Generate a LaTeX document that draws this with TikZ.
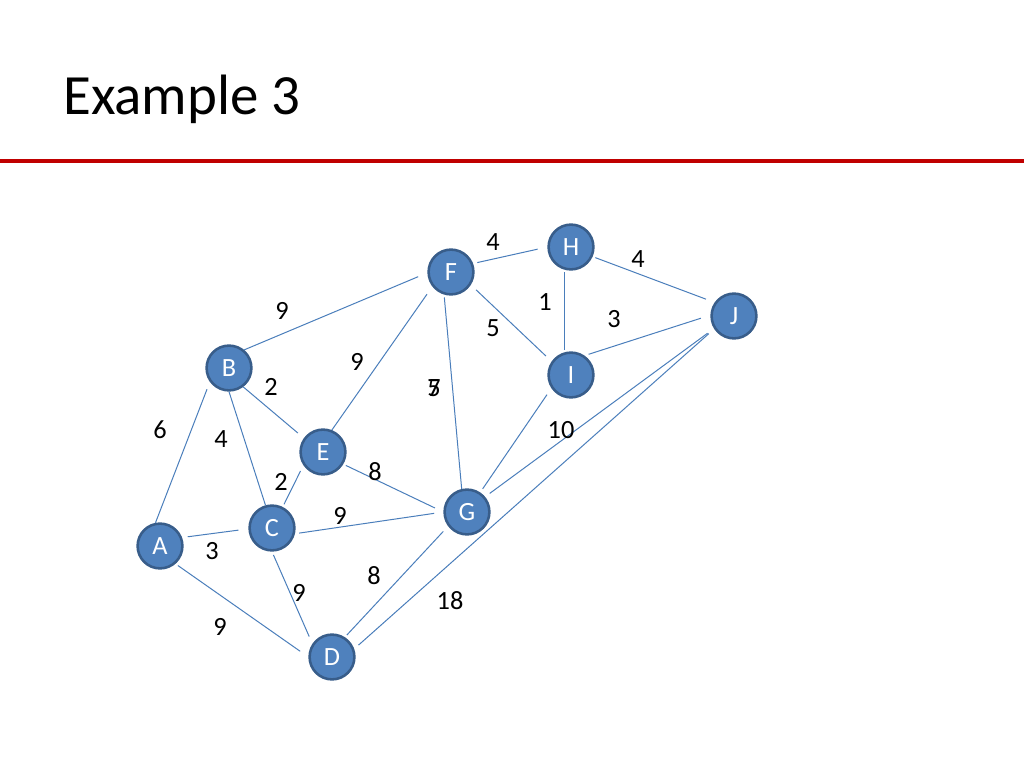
\documentclass[tikz,border=0pt]{standalone}
\usepackage{fontspec}
\setmainfont{Carlito}
\definecolor{nodefill}{HTML}{4F81BD}
\definecolor{nodeedge}{HTML}{385D8A}
\definecolor{edgecol}{HTML}{4A7EBB}
\definecolor{rulered}{HTML}{C00000}
\begin{document}
\begin{tikzpicture}[x=0.703125pt,y=-0.703125pt,
  vertex/.style={circle,fill=nodefill,draw=nodeedge,line width=1.8pt,minimum size=31.5pt,inner sep=0pt,text=white,font=\fontsize{18.5}{18.5}\selectfont},
  edge/.style={draw=edgecol,line width=0.7pt},
  wlabel/.style={font=\fontsize{18.5}{18.5}\selectfont,text=black,inner sep=0pt}]
\useasboundingbox (0,0) rectangle (1024,768);
\fill[white] (0,0) rectangle (1024,768);
\node[anchor=base west,font=\fontsize{40}{40}\selectfont,inner sep=0pt] (title) at (63,115) {Example 3};
\coordinate (rl) at (0,161);
\coordinate (rr) at (1024,161);
\draw[rulered,line width=2.2pt] (rl) -- (rr);

\node[vertex] (A) at (160,546) {A};
\node[vertex] (B) at (229,368) {B};
\node[vertex] (C) at (272,528) {C};
\node[vertex] (D) at (332,657) {D};
\node[vertex] (E) at (323,452) {E};
\node[vertex] (F) at (451,272) {F};
\node[vertex] (G) at (467,512) {G};
\node[vertex] (H) at (571,247) {H};
\node[vertex] (I) at (571,375) {I};
\node[vertex] (J) at (734,316) {J};

\draw[edge,shorten >=5.5pt] (A.101) -- (B.216);
\draw[edge,shorten <=4pt,shorten >=7pt] (A.21) -- (C.182);
\draw[edge,shorten <=2pt,shorten >=7pt] (A.-49) -- (D.180);
\draw[edge,shorten >=7pt] (B.50) -- (F.182);
\draw[edge,shorten >=5.5pt] (B.-53) -- (E.144);
\draw[edge] (B.-90) -- (C.106);
\draw[edge,shorten <=2pt,shorten >=4.5pt] (C.63) -- (E.214);
\draw[edge,shorten <=3pt,shorten >=6.5pt] (C.-14) -- (G.180);
\draw[edge,shorten <=2.5pt,shorten >=5.5pt] (C.-90) -- (D.146);
\draw[edge,shorten >=6.5pt] (E.68) -- (F.218);
\draw[edge,shorten <=2pt,shorten >=6.5pt] (E.-31) -- (G.180);
\draw[edge,shorten <=2pt] (F.253) -- (G.103);
\draw[edge,shorten <=3pt,shorten >=7pt] (F.21) -- (H.180);
\draw[edge,shorten <=5pt,shorten >=5.5pt] (F.-33) -- (I.145);
\draw[edge,shorten <=2pt,shorten >=2pt] (H.253) -- (I.107);
\draw[edge,shorten <=2pt,shorten >=6.5pt] (H.-24) -- (J.145);
\draw[edge,shorten <=3pt,shorten >=7pt] (I.55) -- (J.178);
\draw[edge,shorten <=5.5pt,shorten >=3pt] (I.214) -- (G.56);
\draw[edge,shorten <=4pt,shorten >=5.5pt] (G.40) -- (J.212);
\draw[edge,shorten <=2pt,shorten >=5pt] (D.57) -- (G.217);
\draw[edge,shorten <=4pt,shorten >=5pt] (D.20) -- (J.213);

\node[wlabel] (lBF) at (282,311) {9};
\node[wlabel] (lAB) at (160,430) {6};
\node[wlabel] (lBC) at (221,439) {4};
\node[wlabel] (lBE) at (271,387) {2};
\node[wlabel] (lEF) at (357,362) {9};
\node[wlabel] (lFG) at (434,388) {5};
\node[wlabel] (lGJ) at (434,388) {7};
\node[wlabel] (lCE) at (281,482) {2};
\node[wlabel] (lEG) at (375,472) {8};
\node[wlabel] (lCG) at (340,516) {9};
\node[wlabel] (lAC) at (212,551) {3};
\node[wlabel] (lCD) at (299,593) {9};
\node[wlabel] (lAD) at (220,627) {9};
\node[wlabel] (lDG) at (374,576) {8};
\node[wlabel] (lDJ) at (450,601) {18};
\node[wlabel] (lIG) at (561,430) {10};
\node[wlabel] (lFH) at (493,242) {4};
\node[wlabel] (lHJ) at (638,259) {4};
\node[wlabel] (lHI) at (545,302) {1};
\node[wlabel] (lFI) at (493,328) {5};
\node[wlabel] (lIJ) at (614,319) {3};
\end{tikzpicture}
\end{document}
